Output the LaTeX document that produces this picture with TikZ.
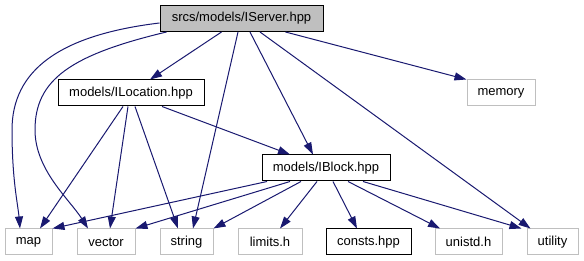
\documentclass[tikz,border=0pt]{standalone}
\usepackage{fontspec}
\setmainfont{Liberation Sans}
\usetikzlibrary{arrows.meta}

\definecolor{edgeblue}{HTML}{191970}
\definecolor{boxgray}{HTML}{BFBFBF}

\begin{document}
\begin{tikzpicture}[x=1pt,y=-1pt,
    incbox/.style={draw=black,line width=1pt,inner sep=0pt,minimum height=26pt,
      font=\fontsize{13}{15}\selectfont},
    sysbox/.style={incbox,draw=boxgray},
    srcbox/.style={incbox,fill=boxgray},
    dep/.style={draw=edgeblue,line width=1pt,-{Triangle[length=12pt,width=8pt]}}]
  \useasboundingbox (0,0) rectangle (584,261);

  % Draw the headers
  \node[srcbox,minimum width=163pt] (srv) at (241.5,18.5) {srcs/models/IServer.hpp};
  \node[incbox,minimum width=146pt] (loc) at (131,93) {models/ILocation.hpp};
  \node[sysbox,minimum width=68pt] (mem) at (501,93) {memory};
  \node[incbox,minimum width=128pt] (blk) at (326,168) {models/IBlock.hpp};

  % Draw the bottom row
  \node[sysbox,minimum width=47pt] (map) at (28.5,242) {map};
  \node[sysbox,minimum width=58pt] (vec) at (106,242) {vector};
  \node[sysbox,minimum width=53pt] (str) at (186.5,242) {string};
  \node[sysbox,minimum width=64pt] (lim) at (270,242) {limits.h};
  \node[incbox,minimum width=85pt] (cst) at (368.5,242) {consts.hpp};
  \node[sysbox,minimum width=67pt] (uni) at (468.5,242) {unistd.h};
  \node[sysbox,minimum width=51pt] (utl) at (552.5,242) {utility};

  % Draw the includes of IServer.hpp
  \draw[dep] ([yshift=-4.5pt]srv.west) .. controls (60,35) and (12,70) .. (12,130)
    .. controls (12,180) and (18,205) .. ([xshift=-8.5pt]map.north);
  \draw[dep] ([xshift=7pt]srv.south west) .. controls (70,55) and (35,80) .. (35,130)
    .. controls (35,170) and (70,200) .. ([xshift=-18pt]vec.north);
  \draw[dep] ([xshift=-20pt]srv.south) -- ([xshift=19pt]loc.north);
  \draw[dep] ([xshift=-3.5pt]srv.south) -- ([xshift=6.5pt]str.north);
  \draw[dep] ([xshift=8.5pt]srv.south) -- ([xshift=-13pt]blk.north);
  \draw[dep] ([xshift=18.5pt]srv.south) -- ([xshift=-22pt]utl.north);
  \draw[dep] ([xshift=44pt]srv.south) -- (mem.north west);

  % Draw the includes of ILocation.hpp
  \draw[dep] ([xshift=-8pt]loc.south) -- ([xshift=11.5pt]map.north);
  \draw[dep] ([xshift=-3pt]loc.south) -- ([xshift=4pt]vec.north);
  \draw[dep] ([xshift=4pt]loc.south) -- ([xshift=-8.5pt]str.north);
  \draw[dep] ([xshift=31pt]loc.south) -- ([xshift=-36pt]blk.north);

  % Draw the includes of IBlock.hpp
  \draw[dep] ([xshift=-59pt]blk.south) -- (map.north east);
  \draw[dep] ([xshift=-36pt]blk.south) -- (vec.north east);
  \draw[dep] ([xshift=-25pt]blk.south) -- (str.north east);
  \draw[dep] ([xshift=-9pt]blk.south) -- ([xshift=10pt]lim.north);
  \draw[dep] ([xshift=7pt]blk.south) -- ([xshift=-11.5pt]cst.north);
  \draw[dep] ([xshift=22pt]blk.south) -- ([xshift=-28.5pt]uni.north);
  \draw[dep] ([xshift=37pt]blk.south) -- ([xshift=-5pt]utl.north west);
\end{tikzpicture}
\end{document}
